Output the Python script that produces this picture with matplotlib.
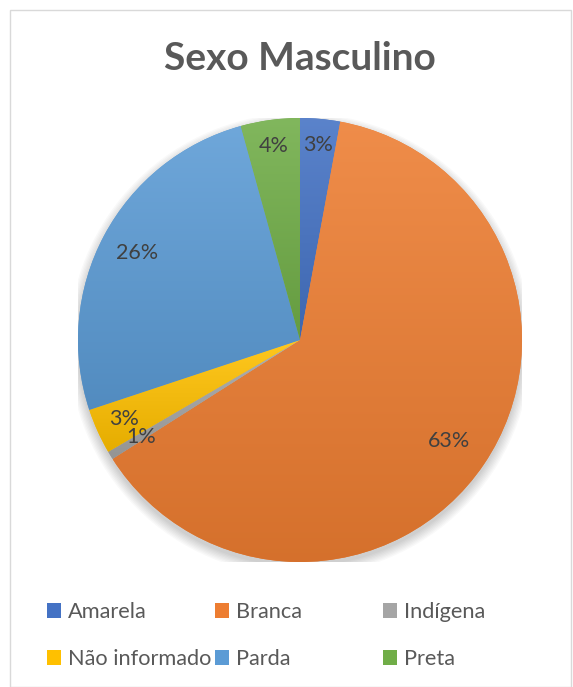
"""Pie chart of respondent race/colour, male sample."""
import matplotlib
matplotlib.use("Agg")
import matplotlib.pyplot as plt
import matplotlib.colors as mcolors
import numpy as np
from matplotlib.patches import Rectangle, Circle

categories = ["Amarela", "Branca", "Indígena", "Não informado", "Parda", "Preta"]
shares = [2.9, 63.1, 0.6, 3.3, 25.8, 4.3]
colors = ["#4472C4", "#ED7D31", "#A5A5A5", "#FFC000", "#5B9BD5", "#70AD47"]
# radial position of each percentage label, as a fraction of the radius
label_dist = [0.88, 0.81, 0.84, 0.87, 0.83, 0.88]

plt.rcParams["font.family"] = ["Lato", "DejaVu Sans"]
TEXT = "#595959"

W, H = 573, 687
fig = plt.figure(figsize=(W / 100, H / 100), dpi=100)

# light frame around the chart area
fig.patches.append(Rectangle((10 / W, 0), (W - 12) / W, (H - 10) / H,
                             transform=fig.transFigure, fill=False,
                             edgecolor="#D9D9D9", linewidth=1))

cx, cy, r = 300, 340, 222
ax = fig.add_axes([(cx - r) / W, (H - cy - r) / H, 2 * r / W, 2 * r / H])

# soft drop shadow under the pie
for i in range(8):
    ax.add_patch(Circle((0.0, -0.02), 1.0 + 0.006 * i, color="black",
                        alpha=0.025, zorder=0, linewidth=0))

wedges, texts, autotexts = ax.pie(
    shares, colors=colors, startangle=90, counterclock=False,
    autopct="%1.0f%%", pctdistance=1.0, radius=1.0,
    textprops={"fontsize": 15.5, "color": "#404040"},
    wedgeprops={"linewidth": 0},
)

# vertical light-to-dark gradient clipped to every wedge
for w, c in zip(wedges, colors):
    base = np.array(mcolors.to_rgb(c))
    top = base + (1 - base) * 0.12
    bottom = base * 0.9
    t = np.linspace(0, 1, 256)[:, None]
    grad = top[None, :] * (1 - t) + bottom[None, :] * t
    img = np.repeat(grad[:, None, :], 2, axis=1)
    bb = w.get_path().get_extents(w.get_patch_transform())
    im = ax.imshow(img, extent=[bb.x0, bb.x1, bb.y0, bb.y1],
                   aspect="auto", zorder=w.get_zorder() + 0.1, origin="upper")
    im.set_clip_path(w)

for t, d in zip(autotexts, label_dist):
    x, y = t.get_position()
    t.set_position((x * d, y * d))
    t.set_zorder(5)

ax.set_xlim(-1, 1)
ax.set_ylim(-1, 1)
ax.set_aspect("equal")
ax.axis("off")

fig.text(cx / W, 1 - 58 / H, "Sexo Masculino", ha="center", va="center",
         fontsize=28, fontweight="bold", color=TEXT)

# legend: three columns of two entries each
col_x = [47, 215, 383]
for col in range(3):
    idx = [col, col + 3]
    handles = [Rectangle((0, 0), 1, 1, facecolor=colors[i]) for i in idx]
    leg = fig.legend(handles, [categories[i] for i in idx],
                     loc="upper left", bbox_to_anchor=(col_x[col] / W, 1 - 602 / H),
                     frameon=False, fontsize=15.7, handlelength=0.65,
                     handleheight=0.65, handletextpad=0.3, labelspacing=1.25,
                     borderaxespad=0, borderpad=0)
    for txt in leg.get_texts():
        txt.set_color(TEXT)

fig.savefig("out.png", dpi=100)
